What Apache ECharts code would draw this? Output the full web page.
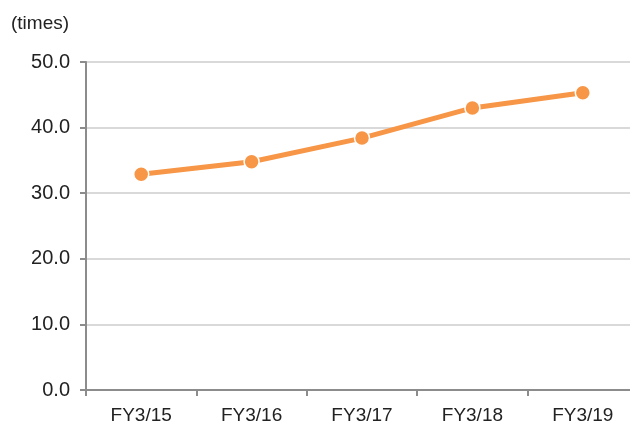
<!DOCTYPE html>
<html>
<head>
<meta charset="utf-8">
<script src="https://cdn.jsdelivr.net/npm/echarts@6/dist/echarts.min.js"></script>
<style>
  html, body { margin: 0; padding: 0; background: #fff; }
  #chart { width: 630px; height: 426px; }
</style>
</head>
<body>
<div id="chart"></div>
<script>
var categories = ["FY3/15", "FY3/16", "FY3/17", "FY3/18", "FY3/19"];
var values = [32.9, 34.8, 38.4, 43.0, 45.3];
var yTicks = [0, 10, 20, 30, 40, 50];

var myChart = echarts.init(document.getElementById("chart"));
var option = {
  backgroundColor: "#fff",
  animation: false,
  textStyle: { fontFamily: "Liberation Sans, Arial, sans-serif" },
  graphic: [
    {
      type: "text",
      left: 11,
      top: 14,
      style: { text: "(times)", fontSize: 19, fill: "#222", fontFamily: "Liberation Sans, Arial, sans-serif" }
    }
  ],
  // grid runs a little past the right edge, as in the original
  grid: { left: 86, top: 62, width: 552, height: 328, outerBoundsMode: "none", containLabel: false },
  xAxis: {
    type: "category",
    data: categories,
    boundaryGap: true,
    axisLine: { lineStyle: { color: "#8c8c8c", width: 2 } },
    axisTick: { show: true, length: 6, lineStyle: { color: "#8c8c8c", width: 2 } },
    axisLabel: { color: "#222", fontSize: 19, margin: 16 }
  },
  yAxis: {
    type: "value",
    min: 0,
    max: 50,
    interval: 10,
    axisLine: { show: true, lineStyle: { color: "#8c8c8c", width: 2 } },
    axisTick: { show: true, length: 6, lineStyle: { color: "#8c8c8c", width: 2 } },
    axisLabel: {
      color: "#222",
      fontSize: 20,
      margin: 16,
      padding: [3, 0, 0, 0],
      formatter: function (v) { return yTicks.indexOf(v) >= 0 ? v.toFixed(1) : ""; }
    },
    splitLine: { show: true, lineStyle: { color: "#d9d9d9", width: 2 } }
  },
  series: [
    {
      type: "line",
      data: values,
      symbol: "circle",
      symbolSize: 15,
      lineStyle: { color: "#f79646", width: 5 },
      itemStyle: { color: "#f79646", borderColor: "#fff", borderWidth: 1.5 }
    }
  ]
};
myChart.setOption(option);
</script>
</body>
</html>
